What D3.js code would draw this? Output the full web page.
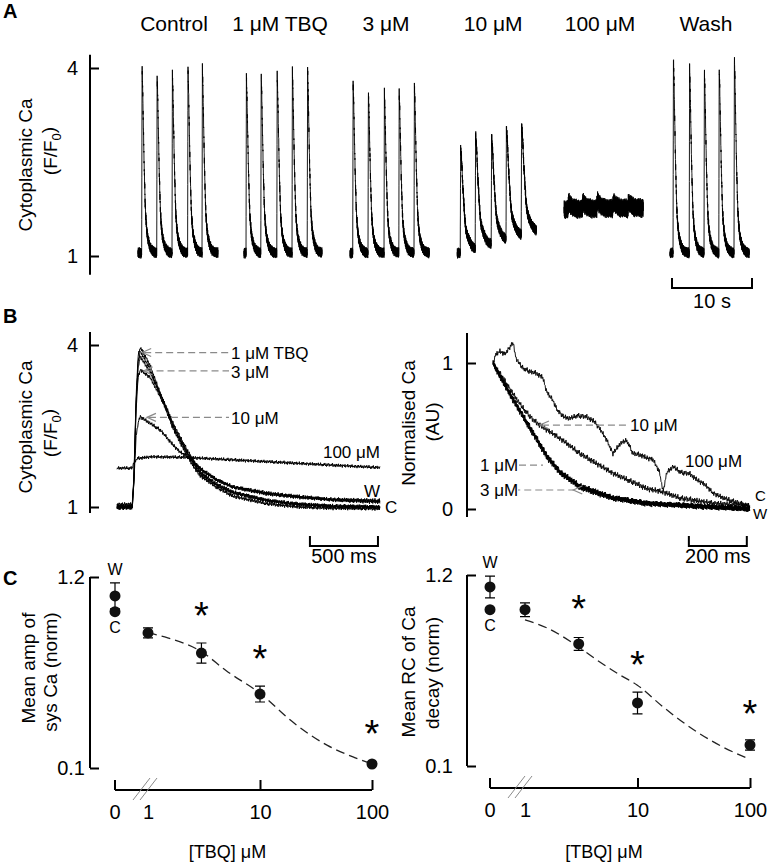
<!DOCTYPE html>
<html><head><meta charset="utf-8">
<script src="https://cdn.jsdelivr.net/npm/d3@7/dist/d3.min.js"></script>
<style>html,body{margin:0;padding:0;background:#fff;}svg{display:block;}</style>
</head><body>
<svg id="fig" width="777" height="864"></svg>
<script>
// ================= DATA =================
// ---- Panel A: raw recordings (time in s, Ca in F/F0) ----
const groupsA      = ["Control", "1 μM TBQ", "3 μM", "10 μM", "100 μM", "Wash"];
const groupStartA  = [0, 13.25, 26.5, 39.9, 53.25, 66.5];
const groupDurA    = [10, 9.75, 9.9, 9.9, 9.9, 9.9];
const spikeTimesA  = [
  [0.46, 2.34, 4.25, 6.2, 8.0],
  [0.25, 2.1, 4.1, 6.0, 7.9],
  [0.34, 2.25, 4.25, 6.1, 8.0],
  [0.38, 2.25, 4.25, 6.1, 8.0],
  [0.5, 2.3, 4.1, 6.1, 8.0],
  [0.38, 2.4, 4.25, 6.1, 8.0]];
const spikePeaksA  = [
  [4.02, 3.88, 3.92, 3.97, 3.99],
  [3.86, 3.89, 3.88, 3.94, 3.96],
  [3.76, 3.62, 3.60, 3.60, 3.73],
  [2.72, 2.87, 2.74, 2.82, 2.80],
  [1.86, 1.85, 1.87, 1.85, 1.84],
  [4.16, 4.00, 3.95, 4.00, 4.16]];
const baselineA    = [1.05, 1.05, 1.05, 1.05, 1.74, 1.05];
const noiseAmpA    = [0.09, 0.09, 0.09, 0.09, 0.16, 0.09];
const decayKindA   = ["fast", "fast", "fast", "slow", "slow", "fast"];
const riseMs       = 50;
const ticksA       = [1, 4];

// ---- Panel B left: averaged transients (ms, F/F0) ----
const bLeftC    = [[0,0.98],[112,0.98],[125,1.5],[140,2.9],[155,3.7],[172,3.88],[243,3.55],[316,3.08],[368,2.75],[412,2.45],[463,2.2],[515,1.95],[559,1.76],[610,1.58],[735,1.36],[853,1.2],[1103,1.06],[1345,1.0],[1588,0.98],[1933,0.97]];
const bLeft1uM  = [[0,1.0],[112,1.0],[125,1.6],[140,3.0],[155,3.8],[172,3.96],[243,3.62],[316,3.12],[368,2.8],[412,2.5],[463,2.24],[515,2.0],[559,1.8],[610,1.62],[735,1.4],[853,1.26],[1103,1.12],[1345,1.05],[1588,1.02],[1933,1.0]];
const bLeft3uM  = [[0,1.0],[112,1.0],[125,1.5],[140,2.8],[155,3.4],[172,3.54],[243,3.4],[316,3.05],[368,2.78],[412,2.5],[463,2.25],[515,2.02],[559,1.83],[610,1.65],[735,1.42],[853,1.28],[1103,1.12],[1345,1.05],[1588,1.01],[1933,1.0]];
const bLeftW    = [[0,1.05],[112,1.05],[125,1.6],[140,2.9],[155,3.6],[172,3.78],[243,3.5],[316,3.1],[368,2.82],[412,2.55],[463,2.3],[515,2.06],[559,1.87],[610,1.7],[735,1.5],[853,1.37],[1103,1.24],[1345,1.18],[1588,1.14],[1933,1.12]];
const bLeft10uM = [[0,1.02],[112,1.02],[125,1.5],[140,2.3],[160,2.62],[172,2.67],[243,2.55],[316,2.43],[368,2.28],[412,2.15],[463,2.02],[537,1.9],[610,1.72],[735,1.5],[853,1.37],[1103,1.26],[1345,1.19],[1588,1.13],[1933,1.09]];
const bLeft100uM= [[0,1.72],[110,1.72],[125,1.82],[150,1.9],[250,1.93],[500,1.92],[800,1.88],[1100,1.84],[1400,1.8],[1700,1.76],[1933,1.73]];
const ticksBL   = [1, 4];

// ---- Panel B right: normalised decay (ms, AU) ----
const bRightC    = [[0,1.0],[24,0.9],[47,0.82],[69,0.74],[93,0.66],[138,0.51],[186,0.35],[231,0.245],[300,0.145],[414,0.07],[529,0.035],[759,0.01],[887,0.0]];
const bRightW    = [[0,1.0],[24,0.91],[47,0.83],[69,0.75],[93,0.67],[138,0.52],[186,0.36],[231,0.25],[300,0.15],[414,0.075],[529,0.04],[759,0.015],[887,0.0]];
const bRight1uM  = [[0,1.0],[24,0.92],[47,0.84],[69,0.76],[93,0.68],[138,0.53],[186,0.37],[231,0.26],[300,0.16],[414,0.08],[529,0.04],[759,0.012],[887,0.0]];
const bRight3uM  = [[0,1.0],[24,0.91],[47,0.83],[69,0.755],[93,0.675],[138,0.525],[186,0.365],[231,0.255],[300,0.155],[414,0.078],[529,0.04],[759,0.014],[887,0.0]];
const bRight10uM = [[0,1.0],[20,0.94],[34,0.9],[69,0.79],[100,0.7],[138,0.61],[162,0.575],[241,0.47],[300,0.38],[414,0.245],[531,0.14],[587,0.117],[645,0.075],[759,0.04],[887,0.02]];
const bRight100uM= [[0,1.0],[10,1.06],[24,1.08],[40,1.06],[55,1.1],[69,1.14],[80,1.03],[100,0.97],[128,0.94],[150,0.93],[172,0.9],[186,0.8],[205,0.75],[221,0.68],[245,0.63],[266,0.62],[290,0.64],[324,0.63],[350,0.6],[372,0.54],[393,0.47],[414,0.38],[440,0.45],[462,0.47],[483,0.38],[510,0.37],[531,0.35],[552,0.34],[575,0.25],[587,0.12],[600,0.25],[621,0.29],[650,0.25],[680,0.24],[704,0.2],[730,0.17],[759,0.11],[790,0.08],[818,0.06],[850,0.04],[887,0.02]];
const ticksBR    = [0, 1];

// ---- Panel C: concentration-response ----
const concC      = [1, 3, 10, 100];
const ampMean    = [0.878, 0.762, 0.526, 0.123];
const ampErr     = [0.029, 0.058, 0.046, 0.010];
const ampCtrl    = 1.0;
const ampWash    = 1.091, ampWashErr = 0.075;
const ampStars   = [[3, 1.03], [10, 0.78], [100, 0.35]];
const ampFitConc = [1, 1.5, 3, 5, 10, 20, 40, 70, 100];
const ampFitVal  = [0.878, 0.85, 0.77, 0.66, 0.53, 0.36, 0.23, 0.16, 0.123];
const rcMean     = [1.0, 0.803, 0.463, 0.221];
const rcErr      = [0.04, 0.037, 0.063, 0.029];
const rcCtrl     = 1.0;
const rcWash     = 1.131, rcWashErr = 0.063;
const rcStars    = [[3, 1.056], [10, 0.733], [100, 0.451]];
const rcFitConc  = [1, 1.57, 2.67, 4.37, 6.99, 9.9, 16.9, 33.8, 57.5, 94];
const rcFitVal   = [0.941, 0.895, 0.808, 0.71, 0.624, 0.567, 0.44, 0.296, 0.209, 0.146];
const ticksCY    = [0.1, 1.2];
const ticksCX    = [1, 10, 100];

const noiseSeq = [0.32,-0.71,0.55,-0.18,0.93,-0.62,0.08,-0.88,0.67,-0.41,0.24,0.81,-0.74,0.45,-0.09,-0.53,0.61,-0.27,0.98,-0.83,0.02,0.49,-0.58,0.35,-0.95,0.72,-0.21,0.38,-0.69,0.87,-0.44,0.13,-0.64,0.79,-0.31,0.19,-0.99,0.58,-0.12,0.42,-0.51,0.74,-0.79,0.28,0.05,-0.37,0.91,-0.66,0.22,-0.16,0.52,-0.86,0.63,-0.29,0.84,-0.57,0.11,-0.47,0.39,-0.77,0.69,-0.05,0.26,-0.92,0.47,-0.34,0.76,-0.6,0.15,-0.24,0.89,-0.72,0.31,-0.43,0.57,-0.81,0.04,0.66,-0.55,0.36,-0.14,0.83,-0.68,0.21,-0.39,0.94,-0.48,0.17,-0.85];

// ================= DRAWING =================
const svg = d3.select("#fig");
const FONT = '"Liberation Sans", Arial, Helvetica, sans-serif';
const GREY = "#8a8a8a";

function txt(x, y, s, o = {}) {
  const t = svg.append("text").attr("x", x).attr("y", y)
    .attr("font-family", FONT).attr("font-size", o.size || 18)
    .attr("text-anchor", o.anchor || "start").attr("fill", o.fill || "#000");
  if (o.weight) t.attr("font-weight", o.weight);
  if (o.dy) t.attr("dy", o.dy);
  if (o.ls) t.attr("letter-spacing", o.ls);
  t.text(s);
  return t;
}
function interp(keys, t) {
  if (t <= keys[0][0]) return keys[0][1];
  for (let i = 1; i < keys.length; i++) {
    if (t <= keys[i][0]) {
      const [t0, v0] = keys[i - 1], [t1, v1] = keys[i];
      return v0 + (v1 - v0) * (t - t0) / (t1 - t0);
    }
  }
  return keys[keys.length - 1][1];
}
let nIdx = 0;
function noise() { return noiseSeq[(nIdx++) % noiseSeq.length]; }

function rotLabel(cx, cy, size, build) {
  const t = svg.append("text").attr("transform", `translate(${cx},${cy}) rotate(-90)`)
    .attr("font-family", FONT).attr("font-size", size).attr("text-anchor", "middle")
    .attr("dy", "0.35em").attr("fill", "#000");
  build(t);
}
function yAxis(x, scale, ticks, pad, fmt, spine, fontSize) {
  const ax = d3.axisLeft(scale).tickValues(ticks).tickSize(-9).tickPadding(pad).tickFormat(fmt);
  const g = svg.append("g").attr("transform", `translate(${x},0)`).call(ax);
  g.select(".domain").remove();
  g.selectAll(".tick line").attr("stroke", "#000").attr("stroke-width", 2);
  g.selectAll(".tick text").attr("font-family", FONT).attr("font-size", fontSize).attr("fill", "#000");
  g.append("line").attr("x1", 0).attr("x2", 0)
    .attr("y1", scale(spine[0])).attr("y2", scale(spine[1]))
    .attr("stroke", "#000").attr("stroke-width", 2);
}
function scaleBar(x1, x2, y, label, ly) {
  svg.append("path").attr("d", `M${x1},${y - 10}V${y}H${x2}V${y - 10}`)
    .attr("fill", "none").attr("stroke", "#000").attr("stroke-width", 2);
  txt((x1 + x2) / 2, ly, label, { size: 20, anchor: "middle" });
}
function arrowDash(x1, x2, y) {
  svg.append("line").attr("x1", x1 + 2).attr("x2", x2).attr("y1", y).attr("y2", y)
    .attr("stroke", GREY).attr("stroke-width", 1.2).attr("stroke-dasharray", "7,4");
  svg.append("path").attr("d", `M${x1 + 9},${y - 4}L${x1},${y}L${x1 + 9},${y + 4}`)
    .attr("fill", "none").attr("stroke", GREY).attr("stroke-width", 1.2);
}
function unitLabel(t, pre) { // "(F/F0)"
  t.append("tspan").text(pre);
  t.append("tspan").attr("font-size", 13).attr("dy", "0.35em").text("0");
  t.append("tspan").attr("dy", "-0.35em").text(")");
}

// panel letters
txt(3, 18, "A", { size: 20, weight: "bold" });
txt(3, 323, "B", { size: 20, weight: "bold" });
txt(3, 585, "C", { size: 20, weight: "bold" });

// ---------- Panel A ----------
const xA = d3.scaleLinear().domain([0, 76.4]).range([138, 749.2]);
const yA = d3.scaleLinear().domain([1, 4]).range([256, 68]);
const lineA = d3.line().x(d => xA(d[0])).y(d => yA(d[1]));
// decay templates taken from the averaged transients of panel B (peak at 172 ms)
const tmplFast = bLeft1uM.filter(d => d[0] >= 172).map(d => [d[0] - 172, (d[1] - 1.0) / (3.96 - 1.0)]);
const tmplSlow = bLeft10uM.filter(d => d[0] >= 172).map(d => [d[0] - 172, (d[1] - 1.02) / (2.67 - 1.02)]);
function shapeA(tauMs, keys) {
  if (tauMs < 0) return 0;
  if (tauMs < riseMs) return tauMs / riseMs;
  return interp(keys, tauMs - riseMs);
}
groupsA.forEach((g, i) => {
  const keys = decayKindA[i] === "slow" ? tmplSlow : tmplFast;
  const pts = [];
  for (let t = 0; t <= groupDurA[i] + 1e-9; t += 0.01) {
    let v = baselineA[i];
    spikeTimesA[i].forEach((st, k) => {
      v += (spikePeaksA[i][k] - baselineA[i]) * shapeA((t - st) * 1000, keys);
    });
    v += noiseAmpA[i] * noise();
    pts.push([groupStartA[i] + t, v]);
  }
  svg.append("path").attr("d", lineA(pts)).attr("fill", "none")
    .attr("stroke", "#000").attr("stroke-width", 0.9);
  txt(xA(groupStartA[i] + 4.5), 31, g, { size: 21, anchor: "middle" });
});
yAxis(90, yA, ticksA, 12, d3.format("d"), [0.7, 4.21], 20);
rotLabel(25, 165, 19, t => t.text("Cytoplasmic Ca"));
rotLabel(50, 151, 19, t => unitLabel(t, "(F/F"));
scaleBar(xA(66.75), xA(76.75), 288, "10 s", 308);

// ---------- Panel B left ----------
const xBL = d3.scaleLinear().domain([0, 1933]).range([117, 380]);
const yBL = d3.scaleLinear().domain([1, 4]).range([507, 345]);
const lineBL = d3.line().x(d => xBL(d[0])).y(d => yBL(d[1]));
[[bLeft100uM, 0.035], [bLeft10uM, 0.04], [bLeftW, 0.04], [bLeft3uM, 0.04], [bLeft1uM, 0.04], [bLeftC, 0.04]].forEach(([keys, amp]) => {
  const pts = [];
  for (let t = 0; t <= 1933; t += 4) pts.push([t, interp(keys, t) + amp * noise()]);
  svg.append("path").attr("d", lineBL(pts)).attr("fill", "none")
    .attr("stroke", "#000").attr("stroke-width", 1);
});
yAxis(90, yBL, ticksBL, 12, d3.format("d"), [0.89, 4.24], 20);
rotLabel(25, 427, 19, t => t.text("Cytoplasmic Ca"));
rotLabel(50, 433, 19, t => unitLabel(t, "(F/F"));
arrowDash(xBL(185), 229, yBL(3.86));
txt(231, yBL(3.86), "1 μM TBQ", { size: 17, dy: "0.4em" });
arrowDash(xBL(195), 229, yBL(3.52));
txt(231, yBL(3.52), "3 μM", { size: 17, dy: "0.4em" });
arrowDash(xBL(220), 229, yBL(2.66));
txt(231, yBL(2.66), "10 μM", { size: 17, dy: "0.4em" });
txt(380, yBL(1.93), "100 μM", { size: 17, anchor: "end", dy: "0.1em" });
txt(380, yBL(1.3), "W", { size: 17, anchor: "end", dy: "0.35em" });
txt(385, yBL(1.0), "C", { size: 17, dy: "0.35em" });
scaleBar(xBL(1418), xBL(1918), 546, "500 ms", 563);

// ---------- Panel B right ----------
const xBR = d3.scaleLinear().domain([0, 887]).range([493, 750]);
const yBR = d3.scaleLinear().domain([0, 1]).range([509, 363]);
const lineBR = d3.line().x(d => xBR(d[0])).y(d => yBR(d[1]));
[[bRight100uM, 0.02], [bRight10uM, 0.022], [bRightW, 0.02], [bRight3uM, 0.02], [bRight1uM, 0.02], [bRightC, 0.02]].forEach(([keys, amp]) => {
  const pts = [];
  for (let t = 0; t <= 887; t += 2) pts.push([t, interp(keys, t) + amp * noise()]);
  svg.append("path").attr("d", lineBR(pts)).attr("fill", "none")
    .attr("stroke", "#000").attr("stroke-width", 0.9);
});
yAxis(467, yBR, ticksBR, 14, d3.format("d"), [-0.055, 1.205], 20);
rotLabel(408, 423, 19, t => t.text("Normalised Ca"));
rotLabel(432, 422, 19, t => t.text("(AU)"));
arrowDash(xBR(162), 627, yBR(0.575));
txt(630, yBR(0.575), "10 μM", { size: 17, dy: "0.35em" });
txt(685, yBR(0.33), "100 μM", { size: 17, dy: "0.35em" });
svg.append("line").attr("x1", 519).attr("x2", 543).attr("y1", yBR(0.30)).attr("y2", yBR(0.30))
  .attr("stroke", GREY).attr("stroke-width", 1.2).attr("stroke-dasharray", "7,4");
txt(480, yBR(0.30), "1 μM", { size: 17, dy: "0.35em" });
arrowDash(xBR(277), 518, yBR(0.13));
txt(480, yBR(0.13), "3 μM", { size: 17, dy: "0.35em" });
txt(755, yBR(0.09), "C", { size: 15, dy: "0.35em" });
txt(753, yBR(-0.03), "W", { size: 15, dy: "0.35em" });
scaleBar(xBR(676), xBR(876), 546, "200 ms", 563);

// ---------- Panel C ----------
function drawC(cfg) {
  const { xs, ys, x0, axY, yAxX, means, errs, ctrl, wash, washErr, stars, fitC, fitV, pad } = cfg;
  const pos = d => d === 0 ? x0 : xs(d);
  yAxis(yAxX, ys, ticksCY, pad, d3.format(".1f"), [0.1, 1.2], 20);
  const ax = d3.axisBottom(xs).tickValues(ticksCX).tickFormat(d3.format("d")).tickSize(-10).tickPadding(15);
  const g = svg.append("g").attr("transform", `translate(0,${axY})`).call(ax);
  g.select(".domain").remove();
  g.selectAll(".tick line").attr("stroke", "#000").attr("stroke-width", 2)
    .filter(d => d === 1).remove();
  g.selectAll(".tick text").attr("font-family", FONT).attr("font-size", 20).attr("fill", "#000");
  svg.append("line").attr("x1", x0).attr("x2", xs(100)).attr("y1", axY).attr("y2", axY)
    .attr("stroke", "#000").attr("stroke-width", 2);
  svg.append("line").attr("x1", x0).attr("x2", x0).attr("y1", axY - 10).attr("y2", axY)
    .attr("stroke", "#000").attr("stroke-width", 2);
  txt(x0, axY + 15, "0", { size: 20, anchor: "middle", dy: "0.71em" });
  [0, 7].forEach(o => svg.append("line")
    .attr("x1", x0 + 18 + o).attr("y1", axY + 10).attr("x2", x0 + 35 + o).attr("y2", axY - 12)
    .attr("stroke", GREY).attr("stroke-width", 1));
  txt((x0 + xs(100)) / 2 - 16, 858, "[TBQ] μM", { size: 18, anchor: "middle" });
  const fit = fitC.map((c, i) => [c, fitV[i]]);
  svg.append("path").attr("d", d3.line().x(d => xs(d[0])).y(d => ys(d[1])).curve(d3.curveMonotoneX)(fit))
    .attr("fill", "none").attr("stroke", "#222").attr("stroke-width", 1.3).attr("stroke-dasharray", "9,5");
  const pts = [[0, wash, washErr], [0, ctrl, 0]].concat(concC.map((c, i) => [c, means[i], errs[i]]));
  pts.forEach(([c, m, e]) => {
    const x = pos(c);
    if (e > 0) {
      svg.append("path").attr("d",
        `M${x},${ys(m - e)}V${ys(m + e)}M${x - 5},${ys(m + e)}H${x + 5}M${x - 5},${ys(m - e)}H${x + 5}`)
        .attr("fill", "none").attr("stroke", "#000").attr("stroke-width", 1.2);
    }
    svg.append("circle").attr("cx", x).attr("cy", ys(m)).attr("r", 5.5).attr("fill", "#111");
  });
  stars.forEach(([c, v]) => txt(xs(c), ys(v), "*", { size: 38, anchor: "middle", dy: "0.58em" }));
  txt(x0, ys(wash + washErr), "W", { size: 16, anchor: "middle", dy: "-0.5em" });
  txt(x0, ys(ctrl) + 16, "C", { size: 16, anchor: "middle", dy: "0.35em" });
}
const xCL = d3.scaleLog().domain([1, 100]).range([148, 372]);
const yCL = d3.scaleLinear().domain([0.1, 1.2]).range([768, 577]);
drawC({ xs: xCL, ys: yCL, x0: 115, axY: 790, yAxX: 90, means: ampMean, errs: ampErr, ctrl: ampCtrl,
  wash: ampWash, washErr: ampWashErr, stars: ampStars, fitC: ampFitConc, fitV: ampFitVal, pad: 5 });
rotLabel(28, 668, 19, t => t.text("Mean amp of"));
rotLabel(50, 672, 19, t => t.text("sys Ca (norm)"));

const xCR = d3.scaleLog().domain([1, 100]).range([525, 750]);
const yCR = d3.scaleLinear().domain([0.1, 1.2]).range([766, 575]);
drawC({ xs: xCR, ys: yCR, x0: 490, axY: 788, yAxX: 467, means: rcMean, errs: rcErr, ctrl: rcCtrl,
  wash: rcWash, washErr: rcWashErr, stars: rcStars, fitC: rcFitConc, fitV: rcFitVal, pad: 14 });
rotLabel(408, 672, 19, t => t.text("Mean RC of Ca"));
rotLabel(432, 673, 19, t => t.text("decay (norm)"));
</script>
</body></html>
